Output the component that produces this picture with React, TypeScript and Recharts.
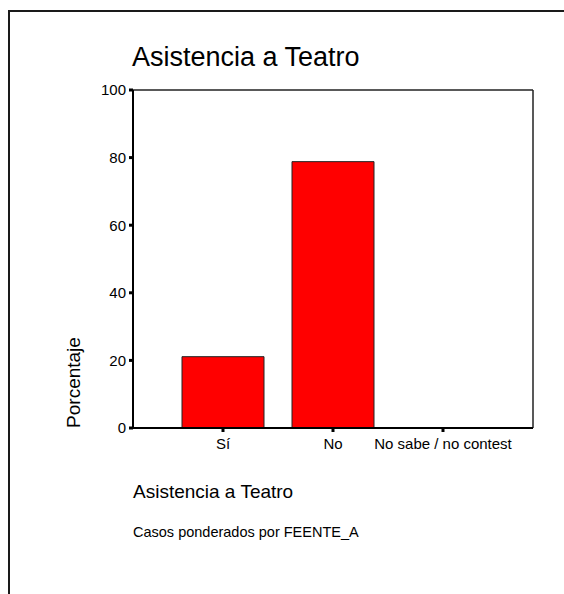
import { BarChart, Bar, XAxis, YAxis, CartesianGrid } from 'recharts';

const categories = ['Sí', 'No', 'No sabe / no contest'];
const percentages = [21.1, 78.8, 0.1];
const yTicks = [0, 20, 40, 60, 80, 100];

const chartData = categories.map((name, i) => ({ name, pct: percentages[i] }));

const font = '"Liberation Sans", Arial, sans-serif';
const tickStyle = { fontSize: 15, fill: '#000', fontFamily: font };

// top and right edges of the plot box, taken from the plot offset
const topEdge = ({ offset }: any) => [offset.top];
const rightEdge = ({ offset }: any) => [offset.left + offset.width];

export default function App() {
  return (
    <div
      style={{
        position: 'absolute',
        left: 0,
        top: 0,
        width: 564,
        height: 594,
        overflow: 'hidden',
        background: '#fff',
        fontFamily: font,
        color: '#000',
      }}
    >
      {/* outer frame, runs off the right and bottom */}
      <div
        style={{
          position: 'absolute',
          left: 8,
          top: 10,
          width: 700,
          height: 700,
          border: '2px solid #1a1a1a',
        }}
      />
      <div style={{ position: 'absolute', left: 132, top: 44, fontSize: 27, lineHeight: '27px', whiteSpace: 'nowrap' }}>
        Asistencia a Teatro
      </div>

      <div style={{ position: 'absolute', left: 0, top: 0 }}>
        <BarChart
          width={564}
          height={594}
          data={chartData}
          margin={{ top: 90, right: 31, bottom: 136, left: 93 }}
        >
          <CartesianGrid
            stroke="#222"
            strokeWidth={1.5}
            horizontalCoordinatesGenerator={topEdge}
            verticalCoordinatesGenerator={rightEdge}
          />
          <XAxis
            dataKey="name"
            height={30}
            padding={{ left: 35, right: 35 }}
            tickSize={4}
            tickMargin={6}
            tick={tickStyle}
            tickLine={{ stroke: '#000', strokeWidth: 3 }}
            axisLine={{ stroke: '#000', strokeWidth: 2 }}
            interval={0}
          />
          <YAxis
            width={40}
            domain={[0, 100]}
            ticks={yTicks}
            tickSize={4}
            tickMargin={3}
            tick={tickStyle}
            tickLine={{ stroke: '#000', strokeWidth: 3 }}
            axisLine={{ stroke: '#000', strokeWidth: 2 }}
          />
          <Bar
            dataKey="pct"
            barSize={82}
            fill="#ff0000"
            stroke="#222"
            strokeWidth={1}
            isAnimationActive={false}
          />
        </BarChart>
      </div>

      <div
        style={{
          position: 'absolute',
          left: -27,
          top: 373,
          width: 200,
          height: 19,
          fontSize: 19,
          lineHeight: '19px',
          textAlign: 'center',
          transform: 'rotate(-90deg)',
          transformOrigin: 'center',
        }}
      >
        Porcentaje
      </div>

      <div style={{ position: 'absolute', left: 133, top: 482, fontSize: 19, lineHeight: '19px', whiteSpace: 'nowrap' }}>
        Asistencia a Teatro
      </div>
      <div style={{ position: 'absolute', left: 133, top: 525, fontSize: 14.5, lineHeight: '14.5px', whiteSpace: 'nowrap' }}>
        Casos ponderados por FEENTE_A
      </div>
    </div>
  );
}
